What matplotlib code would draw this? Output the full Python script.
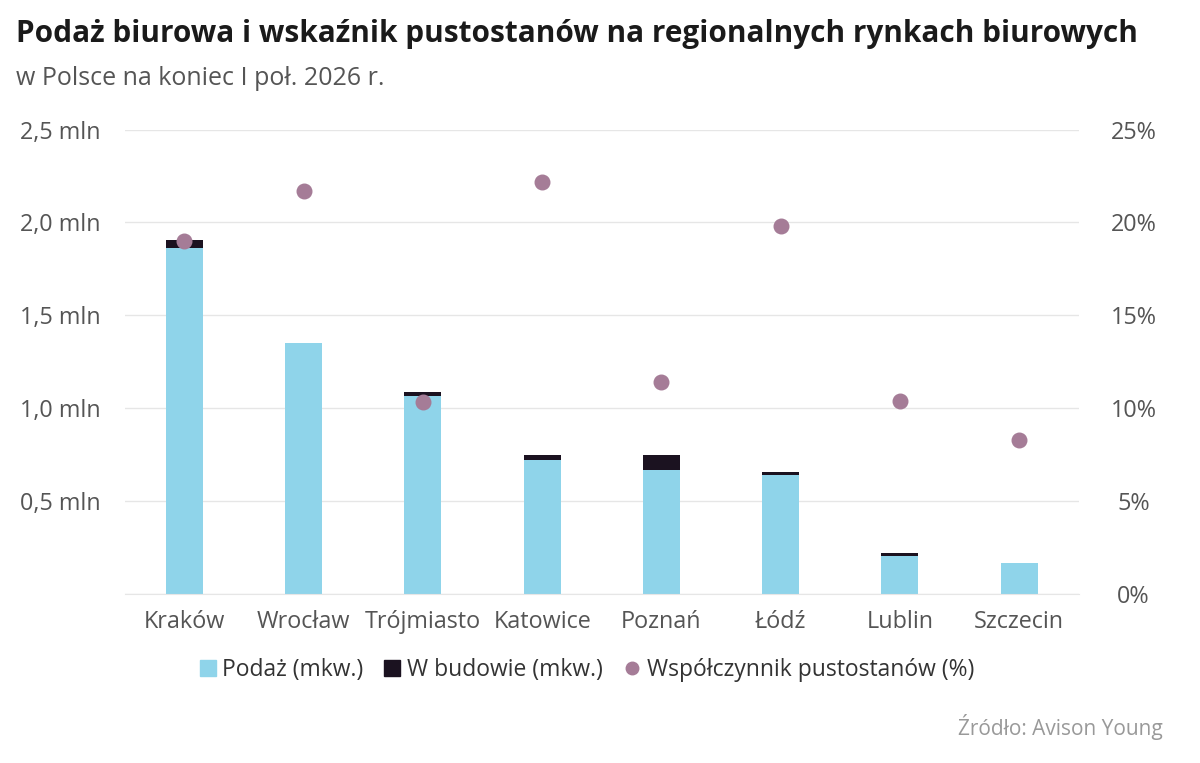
import matplotlib
matplotlib.use("Agg")
import matplotlib.pyplot as plt
from matplotlib import font_manager as fm
from matplotlib.ticker import FuncFormatter, MultipleLocator
from matplotlib.lines import Line2D
from matplotlib.patches import Patch

plt.rcParams['font.family'] = ['Open Sans', 'DejaVu Sans']

cities = ["Kraków", "Wrocław", "Trójmiasto", "Katowice", "Poznań", "Łódź", "Lublin", "Szczecin"]
supply_mln = [1.865, 1.35, 1.065, 0.72, 0.665, 0.64, 0.205, 0.167]
construction_mln = [0.042, 0.0, 0.02, 0.025, 0.08, 0.013, 0.016, 0.0]
vacancy_pct = [19.0, 21.7, 10.3, 22.2, 11.4, 19.8, 10.4, 8.3]

c_supply = "#8fd4ea"
c_constr = "#1b1220"
c_vac = "#a57c97"
c_text = "#555555"
c_grid = "#e6e6e6"
tick_fs = 16.8

title_fp = fm.FontProperties(family=['Open Sans', 'DejaVu Sans'], weight='bold', size=21.4)

fig = plt.figure(figsize=(12, 7.63), dpi=100)
ax = fig.add_axes([0.104, 0.222, 0.795, 0.608])
ax2 = ax.twinx()

x = list(range(len(cities)))
w = 0.31
ax.bar(x, supply_mln, width=w, color=c_supply, zorder=2)
ax.bar(x, construction_mln, width=w, bottom=supply_mln, color=c_constr, zorder=2)

ax.set_ylim(0, 2.5)
ax.set_xlim(-0.5, len(cities) - 0.5)
ax.yaxis.set_major_locator(MultipleLocator(0.5))
ax.yaxis.set_major_formatter(FuncFormatter(lambda v, p: "" if v == 0 else f"{v:.1f} mln".replace(".", ",")))
ax.grid(axis='y', color=c_grid, linewidth=1, zorder=0)
ax.set_axisbelow(True)
for s in ax.spines.values():
    s.set_visible(False)
ax.spines['bottom'].set_visible(True)
ax.spines['bottom'].set_color(c_grid)
ax.tick_params(axis='both', length=0, labelsize=tick_fs, labelcolor=c_text)
ax.tick_params(axis='x', pad=12)
ax.tick_params(axis='y', pad=75.5)
ax.set_xticks(x)
ax.set_xticklabels(cities)
for lbl in ax.get_yticklabels():
    lbl.set_horizontalalignment('left')

ax2.scatter(x, vacancy_pct, s=110, color=c_vac, zorder=3)
ax2.set_ylim(0, 25)
ax2.yaxis.set_major_locator(MultipleLocator(5))
ax2.yaxis.set_major_formatter(FuncFormatter(lambda v, p: f"{v:.0f}%"))
for s in ax2.spines.values():
    s.set_visible(False)
ax2.tick_params(axis='y', length=0, labelsize=tick_fs, labelcolor=c_text, pad=39.5)
for lbl in ax2.get_yticklabels():
    lbl.set_horizontalalignment('center')

fig.text(0.013, 0.945, "Podaż biurowa i wskaźnik pustostanów na regionalnych rynkach biurowych",
         fontproperties=title_fp, color="#1a1a1a", va='baseline')
fig.text(0.013, 0.889, "w Polsce na koniec I poł. 2026 r.", fontsize=18, color=c_text, va='baseline')

handles = [Patch(color=c_supply), Patch(color=c_constr),
           Line2D([], [], marker='o', linestyle='', color=c_vac, markersize=9)]
labels = ["Podaż (mkw.)", "W budowie (mkw.)", "Współczynnik pustostanów (%)"]
fig.legend(handles, labels, loc='center', bbox_to_anchor=(0.489, 0.1215), ncol=3, frameon=False,
           fontsize=16.5, labelcolor="#333333", handlelength=0.7, handleheight=0.7,
           handletextpad=0.3, columnspacing=0.9)

fig.text(0.969, 0.037, "Źródło: Avison Young", fontsize=15, color="#999999", ha='right', va='baseline')

fig.savefig("out.png", dpi=100, facecolor='white')
